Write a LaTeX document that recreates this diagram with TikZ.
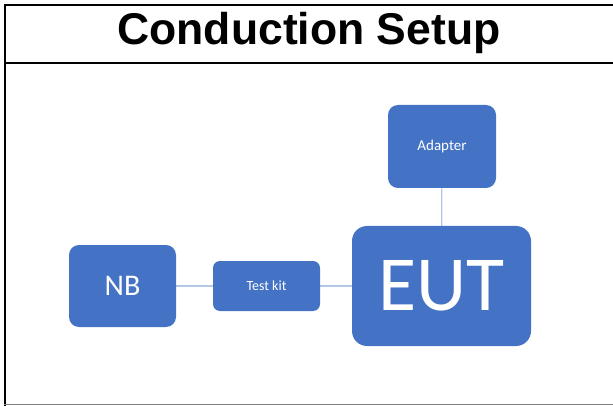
\documentclass[tikz,border=0pt]{standalone}
\usepackage{fontspec}
\setmainfont{Carlito}
\newfontfamily\titlefont{Liberation Sans}
\usetikzlibrary{positioning}
\definecolor{boxblue}{RGB}{68, 114, 196}
\definecolor{linkblue}{RGB}{180, 199, 231}

\begin{document}
\begin{tikzpicture}[x=1pt, y=-1pt,
    unit/.style={fill=boxblue, text=white, inner sep=0pt, rounded corners=10pt},
    link/.style={draw=linkblue, line width=1.2pt}]
    % Frame
    \useasboundingbox (0,0) rectangle (613,406);
    \draw[line width=2pt] (4,5) -- (613,5);
    \draw[line width=2pt] (5,4) -- (5,406);
    \draw[line width=2pt] (4,63) -- (613,63);
    \draw[gray, line width=1pt] (4,404) -- (613,404);
    \node[font=\titlefont\bfseries\fontsize{44.5}{44.5}\selectfont] (title) at (309,33) {Conduction Setup};

    % Links
    \coordinate (nbc) at (122.5,286);
    \coordinate (eutc) at (441.5,286);
    \coordinate (adc) at (442,146.5);
    \draw[link] (nbc) -- (eutc);
    \draw[link] (adc) -- (eutc);

    % Boxes
    \node[unit, minimum width=107pt, minimum height=82pt, font=\fontsize{30}{30}\selectfont] (nb) at (nbc) {NB};
    \node[unit, minimum width=107pt, minimum height=50pt, rounded corners=7pt, font=\fontsize{14}{14}\selectfont] (kit) at (266.5,286) {Test kit};
    \node[unit, minimum width=179pt, minimum height=120pt, rounded corners=15pt, font=\fontsize{78}{78}\selectfont] (eut) at (eutc) {EUT};
    \node[unit, minimum width=108pt, minimum height=83pt, font=\fontsize{15}{15}\selectfont] (adapter) at (adc) {Adapter};
\end{tikzpicture}
\end{document}
